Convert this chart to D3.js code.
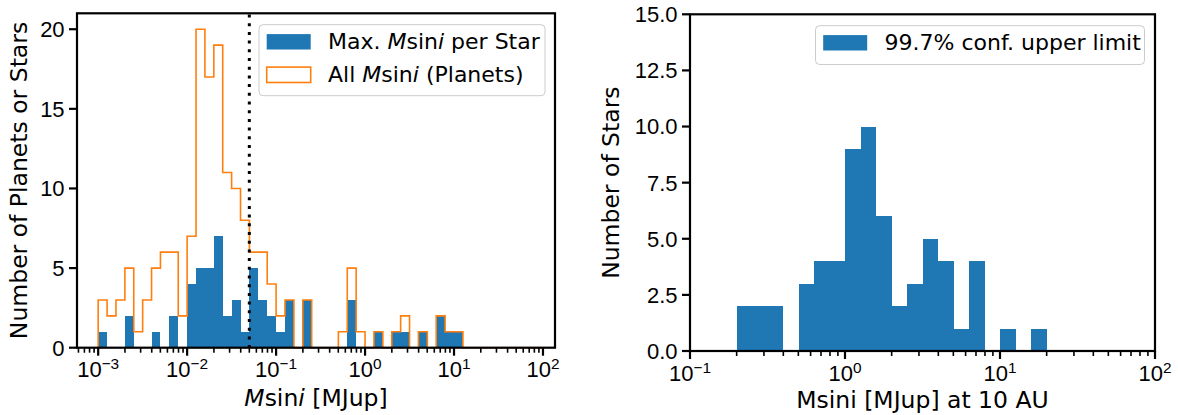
<!DOCTYPE html>
<html>
<head>
<meta charset="utf-8">
<script src="https://cdn.jsdelivr.net/npm/d3@7"></script>
<style>
  body { margin: 0; background: #fff; }
  svg { display: block; font-family: "DejaVu Sans", sans-serif; }
</style>
</head>
<body>
<svg id="chart" width="1178" height="415"></svg>
<script>
// --- data ---
// left panel: histograms in 0.1 dex bins, 1e-3 .. 1e2 MJup
const leftBinStart = -3, leftBinStep = 0.1;
const allMsini = [3,2,3,5,1,3,5,6,6,2, 7,20,17,19,11,10,8,6,6,4,
                  2,3,0,3,0,0,0,1,5,1, 0,1,0,1,2,0,1,0,2,1,
                  1,0,0,0,0,0,0,0,0,0];
const maxMsini = [1,0,0,2,0,0,1,0,2,0, 4,5,5,7,2,3,1,5,3,2,
                  1,3,0,3,0,0,0,0,3,0, 0,1,0,1,1,0,1,0,2,1,
                  1,0,0,0,0,0,0,0,0,0];
const cutoff = 0.05;
const leftYTicks = [0, 5, 10, 15, 20];

// right panel: 99.7% upper limits at 10 AU, 0.1 dex bins, 1e-1 .. 1e2 MJup
const rightBinStart = -1, rightBinStep = 0.1;
const upperLimit = [0,0,0,2,2,2,0,3,4,4, 9,10,6,2,3,5,4,1,4,0,
                    1,0,1,0,0,0,0,0,0,0];
const rightYTicks = [0, 2.5, 5, 7.5, 10, 12.5, 15];

const BLUE = "#1f77b4", ORANGE = "#ff7f0e";
const TICK_FS = 22;
const svg = d3.select("#chart");

const edges = (start, step, n) =>
  d3.range(n + 1).map(i => Math.pow(10, +(start + i * step).toFixed(3)));

const supMinus = e => (e < 0 ? "\u2212" : "") + Math.abs(e);

function axes(g, x, y, w, h, yTicks, yFmt) {
  const [lo, hi] = x.domain();
  const minor = [], major = [];
  for (let d = Math.floor(Math.log10(lo)); d <= Math.ceil(Math.log10(hi)); d++) {
    if (Math.pow(10, d) >= lo * 0.999 && Math.pow(10, d) <= hi * 1.001) major.push(Math.pow(10, d));
    for (let k = 2; k <= 9; k++) {
      const v = k * Math.pow(10, d);
      if (v >= lo && v <= hi) minor.push(v);
    }
  }
  // minor ticks
  const xm = g.append("g").attr("transform", `translate(0,${h})`)
    .call(d3.axisBottom(x).tickValues(minor).tickSize(5).tickFormat("").offset(0));
  xm.select(".domain").remove();
  xm.selectAll("line").attr("stroke-width", 1.6);
  // major ticks + 10^n labels
  const xa = g.append("g").attr("transform", `translate(0,${h})`)
    .attr("font-size", null).attr("font-family", null)
    .call(d3.axisBottom(x).tickValues(major).tickSize(8).tickFormat("").offset(0));
  xa.select(".domain").remove();
  xa.selectAll("line").attr("stroke-width", 2.2);
  xa.selectAll(".tick text")
    .attr("y", 29.5).attr("dy", null).attr("font-size", TICK_FS).attr("fill", "#000")
    .each(function(d) {
      const t = d3.select(this);
      t.text(null);
      t.append("tspan").text("10");
      t.append("tspan").attr("font-size", 15.4).attr("dy", -8)
        .text(supMinus(Math.round(Math.log10(d))));
    });

  const ya = g.append("g")
    .attr("font-size", null).attr("font-family", null)
    .call(d3.axisLeft(y).tickValues(yTicks).tickSize(8).tickPadding(4.4)
      .tickFormat(yFmt).offset(0));
  ya.select(".domain").remove();
  ya.selectAll("line").attr("stroke-width", 2.2);
  ya.selectAll("text").attr("font-size", TICK_FS).attr("fill", "#000").attr("dy", "0.36em");

  // spines
  g.append("rect").attr("width", w).attr("height", h)
    .attr("fill", "none").attr("stroke", "#000").attr("stroke-width", 2.2);
}

function msini(text) {
  text.append("tspan").attr("font-style", "italic").text("M");
  text.append("tspan").text("sin");
  text.append("tspan").attr("font-style", "italic").text("i");
}

function legend(g, bx, by, bw, rows) {
  const bh = rows.length === 1 ? 38.8 : 71;
  g.append("rect").attr("x", bx).attr("y", by).attr("width", bw).attr("height", bh)
    .attr("rx", 4).attr("fill", "#fff").attr("fill-opacity", 0.8)
    .attr("stroke", "#cccccc").attr("stroke-width", 1);
  rows.forEach((r, i) => {
    const cy = by + 17.1 + i * 33;
    g.append("rect").attr("x", bx + 7.7).attr("y", cy - 7.7).attr("width", 44).attr("height", 15.4)
      .attr("fill", r.fill).attr("stroke", r.stroke).attr("stroke-width", r.stroke === "none" ? 0 : 1.6);
    const t = g.append("text").attr("x", bx + 69).attr("y", by + 24.6 + i * 33)
      .attr("font-size", 22).attr("fill", "#000");
    r.label(t);
  });
}

// ---------- left panel ----------
{
  const L = { x0: 77, x1: 555, y0: 13.3, y1: 347.7 };
  const w = L.x1 - L.x0, h = L.y1 - L.y0;
  const g = svg.append("g").attr("transform", `translate(${L.x0},${L.y0})`);
  const x = d3.scaleLog().domain([5.78e-4, 136.5]).range([0, w]);
  const y = d3.scaleLinear().domain([0, 21]).range([h, 0]);
  const e = edges(leftBinStart, leftBinStep, allMsini.length);

  g.append("g").selectAll("rect")
    .data(maxMsini.map((v, i) => ({ v, a: e[i], b: e[i + 1] })).filter(d => d.v > 0))
    .join("rect")
      .attr("x", d => x(d.a)).attr("width", d => x(d.b) - x(d.a))
      .attr("y", d => y(d.v)).attr("height", d => y(0) - y(d.v))
      .attr("fill", BLUE).attr("shape-rendering", "crispEdges");

  const pts = [[e[0], 0]];
  allMsini.forEach((v, i) => { pts.push([e[i], v], [e[i + 1], v]); });
  pts.push([e[e.length - 1], 0]);
  g.append("path").datum(pts)
    .attr("d", d3.line().x(d => x(d[0])).y(d => y(d[1])))
    .attr("fill", "none").attr("stroke", ORANGE).attr("stroke-width", 1.6)
    .attr("stroke-linejoin", "miter");

  g.append("line").attr("x1", x(cutoff)).attr("x2", x(cutoff)).attr("y1", 1.2).attr("y2", h)
    .attr("stroke", "#000").attr("stroke-width", 3).attr("stroke-dasharray", "3 5.7");

  axes(g, x, y, w, h, leftYTicks, d => d);

  legend(g, w - 10 - 286, 11.4, 286, [
    { fill: BLUE, stroke: "none", label: t => { t.append("tspan").text("Max. "); msini(t); t.append("tspan").text(" per Star"); } },
    { fill: "#fff", stroke: ORANGE, label: t => { t.append("tspan").text("All "); msini(t); t.append("tspan").text(" (Planets)"); } }
  ]);

  const xl = svg.append("text").attr("x", (L.x0 + L.x1) / 2).attr("y", 405.5)
    .attr("text-anchor", "middle").attr("font-size", 23.5);
  msini(xl);
  xl.append("tspan").text(" [MJup]");

  svg.append("text").attr("transform", `translate(27,${(L.y0 + L.y1) / 2}) rotate(-90)`)
    .attr("text-anchor", "middle").attr("font-size", 23.5)
    .text("Number of Planets or Stars");
}

// ---------- right panel ----------
{
  const R = { x0: 690, x1: 1155, y0: 14.3, y1: 351 };
  const w = R.x1 - R.x0, h = R.y1 - R.y0;
  const g = svg.append("g").attr("transform", `translate(${R.x0},${R.y0})`);
  const x = d3.scaleLog().domain([0.1, 100]).range([0, w]);
  const y = d3.scaleLinear().domain([0, 15]).range([h, 0]);
  const e = edges(rightBinStart, rightBinStep, upperLimit.length);

  g.append("g").selectAll("rect")
    .data(upperLimit.map((v, i) => ({ v, a: e[i], b: e[i + 1] })).filter(d => d.v > 0))
    .join("rect")
      .attr("x", d => x(d.a)).attr("width", d => x(d.b) - x(d.a))
      .attr("y", d => y(d.v)).attr("height", d => y(0) - y(d.v))
      .attr("fill", BLUE).attr("shape-rendering", "crispEdges");

  axes(g, x, y, w, h, rightYTicks, d3.format(".1f"));

  legend(g, w - 10.5 - 329, 11.4, 329, [
    { fill: BLUE, stroke: "none", label: t => t.text("99.7% conf. upper limit") }
  ]);

  svg.append("text").attr("x", (R.x0 + R.x1) / 2).attr("y", 408)
    .attr("text-anchor", "middle").attr("font-size", 23.5)
    .text("Msini [MJup] at 10 AU");

  svg.append("text").attr("transform", `translate(619,${(R.y0 + R.y1) / 2}) rotate(-90)`)
    .attr("text-anchor", "middle").attr("font-size", 23.5)
    .text("Number of Stars");
}
</script>
</body>
</html>
